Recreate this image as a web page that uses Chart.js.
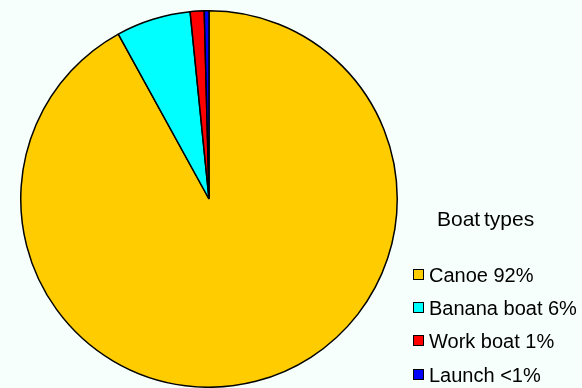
<!DOCTYPE html>
<html>
<head>
<meta charset="utf-8">
<script src="https://cdn.jsdelivr.net/npm/chart.js@4.4.1/dist/chart.umd.min.js"></script>
<style>
  html, body { margin: 0; padding: 0; background: #F7FFFC; }
  #wrap { position: relative; width: 582px; height: 388px; overflow: hidden; }
  #wrap canvas { position: absolute; left: 0; top: 0; }
  .lg { position: absolute; font-family: "Liberation Sans", Arial, sans-serif; font-size: 20px; line-height: 20px; color: #000; white-space: nowrap; }
  .sw { position: absolute; width: 9px; height: 9px; border: 1px solid #000; }
</style>
</head>
<body>
<div id="wrap">
  <canvas id="c" width="582" height="388"></canvas>
</div>
<script>
// Share of boats by type (percent)
const categories = ["Canoe", "Banana boat", "Work boat", "Launch"];
const shares = [92, 6.4, 1.2, 0.4];
const colors = ["#FFCC00", "#00FFFF", "#FF0000", "#0000FF"];
const legendTitle = "Boat types";

function pctLabel(v) {
  return v < 1 ? "<1%" : Math.round(v) + "%";
}

new Chart(document.getElementById("c"), {
  type: "pie",
  data: {
    labels: categories,
    datasets: [{
      data: shares,
      backgroundColor: colors,
      borderColor: "#000000",
      borderWidth: 1.5
    }]
  },
  options: {
    responsive: false,
    animation: false,
    layout: { padding: { top: 10, right: 164, bottom: 0, left: 0 } },
    plugins: { legend: { display: false }, tooltip: { enabled: false } }
  }
});

// Legend block on the right
const wrap = document.getElementById("wrap");
const title = document.createElement("div");
title.className = "lg";
title.style.left = "437px";
title.style.top = "209px";
title.style.fontSize = "21px";
title.style.wordSpacing = "-2px";
title.textContent = legendTitle;
wrap.appendChild(title);

const baselines = [282, 315, 348, 381.5];
categories.forEach((name, i) => {
  const sw = document.createElement("div");
  sw.className = "sw";
  sw.style.left = "413px";
  sw.style.top = (baselines[i] - 13) + "px";
  sw.style.background = colors[i];
  wrap.appendChild(sw);
  const t = document.createElement("div");
  t.className = "lg";
  t.style.left = "429px";
  t.style.top = (baselines[i] - 17) + "px";
  t.textContent = name + " " + pctLabel(shares[i]);
  wrap.appendChild(t);
});
</script>
</body>
</html>
